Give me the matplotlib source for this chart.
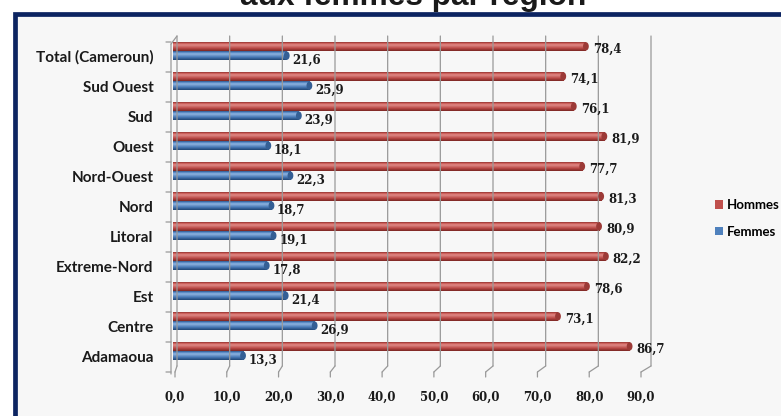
import numpy as np
import matplotlib.pyplot as plt
from matplotlib.patches import Rectangle, Ellipse, Patch
from matplotlib.colors import LinearSegmentedColormap
from matplotlib.transforms import ScaledTranslation

# Taux par région (%), du bas vers le haut du graphique
regions = ['Adamaoua', 'Centre', 'Est', 'Extreme-Nord', 'Litoral', 'Nord',
           'Nord-Ouest', 'Ouest', 'Sud', 'Sud Ouest', 'Total (Cameroun)']
hommes = [86.7, 73.1, 78.6, 82.2, 80.9, 81.3, 77.7, 81.9, 76.1, 74.1, 78.4]
femmes = [13.3, 26.9, 21.4, 17.8, 19.1, 18.7, 22.3, 18.1, 23.9, 25.9, 21.6]
xticks = [0, 10, 20, 30, 40, 50, 60, 70, 80, 90]

RED = '#c0504d'
BLUE = '#4f81bd'
GRID = '#999999'
# dégradés "cylindre" (bas -> haut)
red_cmap = LinearSegmentedColormap.from_list(
    'red_cyl', [(0, '#7a2523'), (0.3, '#b84744'), (0.68, '#e08a87'), (0.85, '#d05e5a'), (1, '#8f302d')])
blue_cmap = LinearSegmentedColormap.from_list(
    'blue_cyl', [(0, '#1f4573'), (0.3, '#4576b3'), (0.68, '#8fb4e0'), (0.85, '#5a8bc8'), (1, '#2c5589')])

W, H = 781, 416
fig = plt.figure(figsize=(W / 100, H / 100), dpi=100)
fig.patch.set_facecolor('white')

def px(dx, dy):
    # décalage en pixels (y vers le bas)
    return ScaledTranslation(dx / 100, -dy / 100, fig.dpi_scale_trans)

# cadre bleu foncé
frame = Rectangle((15 / W, -0.1), 1.2, (H - 14) / H + 0.1, transform=fig.transFigure,
                  facecolor='#f7f7f7', edgecolor='#0c2461', linewidth=3.4, zorder=-5)
fig.patches.append(frame)

fig.text(413 / W, 1 - 5 / H, 'aux femmes par région', ha='center', va='baseline',
         fontsize=22.8, fontweight='bold', family='Liberation Sans', color='#1a1a1a')

ax = fig.add_axes([173 / W, 50 / H, 474 / W, 330 / H])
ax.set_facecolor('none')
for s in ax.spines.values():
    s.set_visible(False)

y = np.arange(len(regions))
bh = 0.28
off = 0.155
bars_h = ax.barh(y + off, hommes, height=bh, color='none', zorder=3)
bars_f = ax.barh(y - off, femmes, height=bh, color='none', zorder=3)

# remplissage en dégradé + bout arrondi pour l'effet 3D
grad = np.linspace(0, 1, 64).reshape(-1, 1)
cap_w = 1.1
for bars, cmap, cap_col in [(bars_h, red_cmap, '#9c3a37'), (bars_f, blue_cmap, '#345f95')]:
    for b in bars:
        x0, y0, w, h = b.get_x(), b.get_y(), b.get_width(), b.get_height()
        ax.imshow(grad, extent=[x0, x0 + w, y0, y0 + h], origin='lower', aspect='auto',
                  cmap=cmap, zorder=3, interpolation='bilinear')
        ax.add_patch(Ellipse((x0 + w, y0 + h / 2), cap_w, h, facecolor=cap_col,
                             edgecolor='none', zorder=4))

ax.set_xlim(0, 90)
ax.set_ylim(-0.5, len(regions) - 0.5)

xtr = ax.get_xaxis_transform()

def seg(xd, ya, x1, y1, x2, y2):
    # segment gris défini en pixels autour du point (xd, ya)
    ax.annotate('', xy=(xd, ya), xycoords=xtr + px(x2, y2),
                xytext=(xd, ya), textcoords=xtr + px(x1, y1),
                arrowprops=dict(arrowstyle='-', color=GRID, lw=0.9,
                                shrinkA=0, shrinkB=0), annotation_clip=False)

# quadrillage de la paroi arrière et marques du sol en perspective
for v in xticks:
    fx = 2 - 8 * v / 90
    seg(v, 0, 4, 0, 4, -330)
    seg(v, 0, 4, 0, fx, 6)
    seg(v, 0, fx, 6, fx, 11)

# paroi gauche (avant) et graduations entre catégories
seg(0, 1, -2, 8, -2, 338)
seg(0, 1, -2, 8, 4, 0)
for k in range(len(regions) + 1):
    yk = k / len(regions)
    seg(0, yk, -7, 6, -2, 6)

def fmt(v):
    return f'{v:.1f}'.replace('.', ',')

num_font = dict(family='DejaVu Serif', fontsize=8.5, fontweight='bold', color='#1a1a1a')
for yi, v in zip(y, hommes):
    ax.annotate(fmt(v), xy=(v, yi + off), xytext=(5, -2), textcoords='offset points',
                va='center', ha='left', zorder=5, **num_font)
for yi, v in zip(y, femmes):
    ax.annotate(fmt(v), xy=(v, yi - off), xytext=(4, -3), textcoords='offset points',
                va='center', ha='left', zorder=5, **num_font)

ax.set_xticks(xticks)
ax.set_xticklabels([fmt(v) for v in xticks], **num_font)
ax.tick_params(axis='x', length=0, pad=18)
for v, lab in zip(xticks, ax.get_xticklabels()):
    lab.set_transform(lab.get_transform() + px(2 - 8 * v / 90, 0))

ax.set_yticks(y)
ax.set_yticklabels(regions, family='Lato', fontsize=11, fontweight='bold', color='#1a1a1a')
ax.tick_params(axis='y', length=0, pad=14)
for lab in ax.get_yticklabels():
    lab.set_transform(lab.get_transform() + px(0, 5))

handles = [Patch(facecolor=RED, edgecolor='none'), Patch(facecolor=BLUE, edgecolor='none')]
fig.legend(handles, ['Hommes', 'Femmes'], loc='center left',
           bbox_to_anchor=(708 / W, 1 - 218.5 / H), frameon=False, borderpad=0,
           handlelength=0.6, handleheight=0.6, handletextpad=0.3, labelspacing=1.1,
           prop=dict(family='Lato', size=9.5, weight='bold'))

fig.savefig('out.png', dpi=100)
